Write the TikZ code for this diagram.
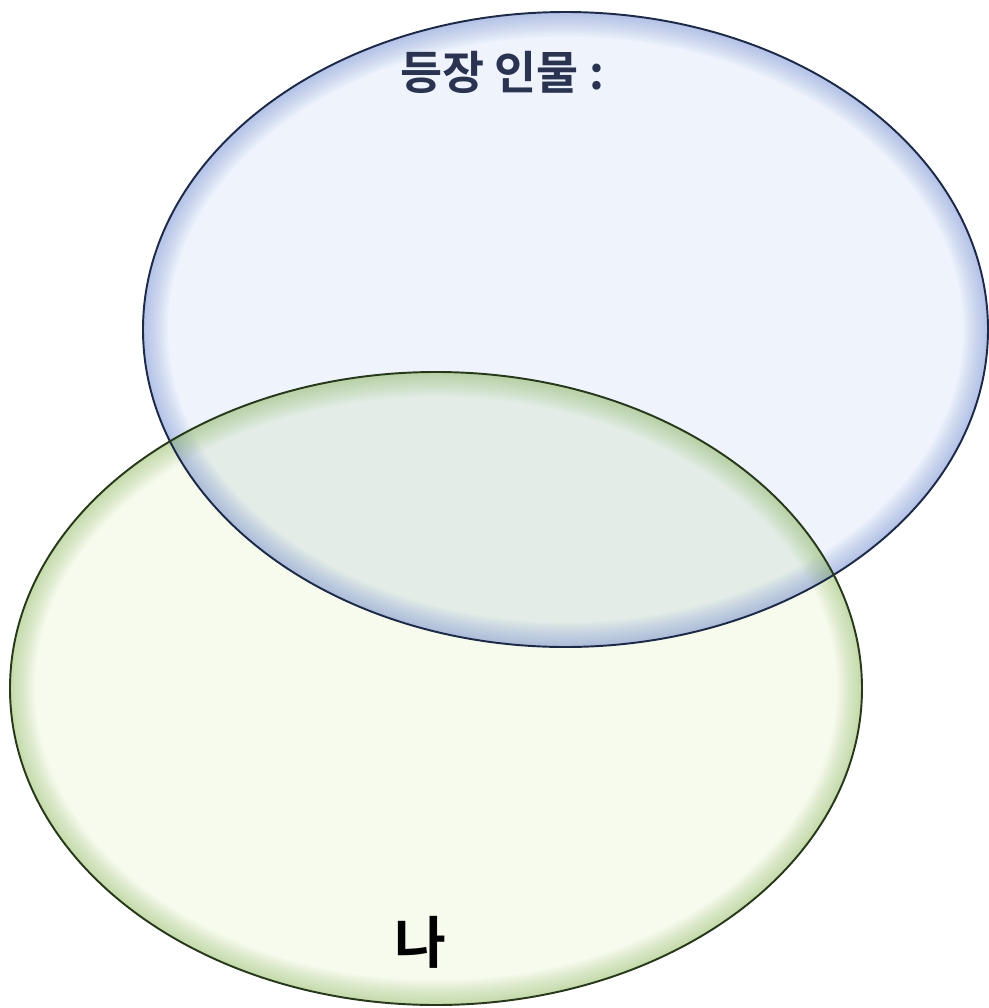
\documentclass[tikz,border=0pt]{standalone}
\usepackage{fontspec}
\newfontfamily\krfont[BoldFont={Noto Sans CJK KR Bold}]{Noto Sans CJK KR}
\usetikzlibrary{positioning}
\definecolor{castfill}{HTML}{EEF3FC}
\definecolor{castglow}{HTML}{6A84D2}
\definecolor{castline}{HTML}{1C2A48}
\definecolor{mefill}{HTML}{F6FBEE}
\definecolor{meglow}{HTML}{86B656}
\definecolor{meline}{HTML}{27391A}
\definecolor{bothfill}{HTML}{E3ECE7}
\definecolor{titleink}{HTML}{2A3350}

\begin{document}
\begin{tikzpicture}[x=0.02cm,y=-0.02cm,
castset/.style={x radius=422.5,y radius=317.5},
meset/.style={x radius=426,y radius=316.5},
glow/.style={line width=#1},
label/.style={inner sep=0pt,font=\krfont}]
\useasboundingbox (0,0) rectangle (989,1008);
\coordinate (castc) at (565.5,329.5);
\coordinate (mec) at (436,688.5);

\fill[castfill] (castc) ellipse [castset];
\fill[mefill] (mec) ellipse [meset];
\begin{scope}
\clip (castc) ellipse [castset];
\fill[bothfill] (mec) ellipse [meset];
\end{scope}

% soft inner edges
\begin{scope}
\clip (castc) ellipse [castset];
\foreach \w in {2,4,...,28}
  \draw[castglow,glow=\w pt,draw opacity=0.035] (castc) ellipse [castset];
\end{scope}
\begin{scope}
\clip (mec) ellipse [meset];
\foreach \w in {2,4,...,28}
  \draw[meglow,glow=\w pt,draw opacity=0.035] (mec) ellipse [meset];
\end{scope}

\draw[castline,line width=1.1pt] (castc) ellipse [castset];
\draw[meline,line width=1.1pt] (mec) ellipse [meset];

\node[label,text=titleink,font=\krfont\bfseries\fontsize{26}{30}\selectfont] (title) at (502,72) {등장 인물 :};
\node[label,font=\krfont\bfseries\fontsize{32}{36}\selectfont] (me) at (420,942) {나};
\end{tikzpicture}
\end{document}
